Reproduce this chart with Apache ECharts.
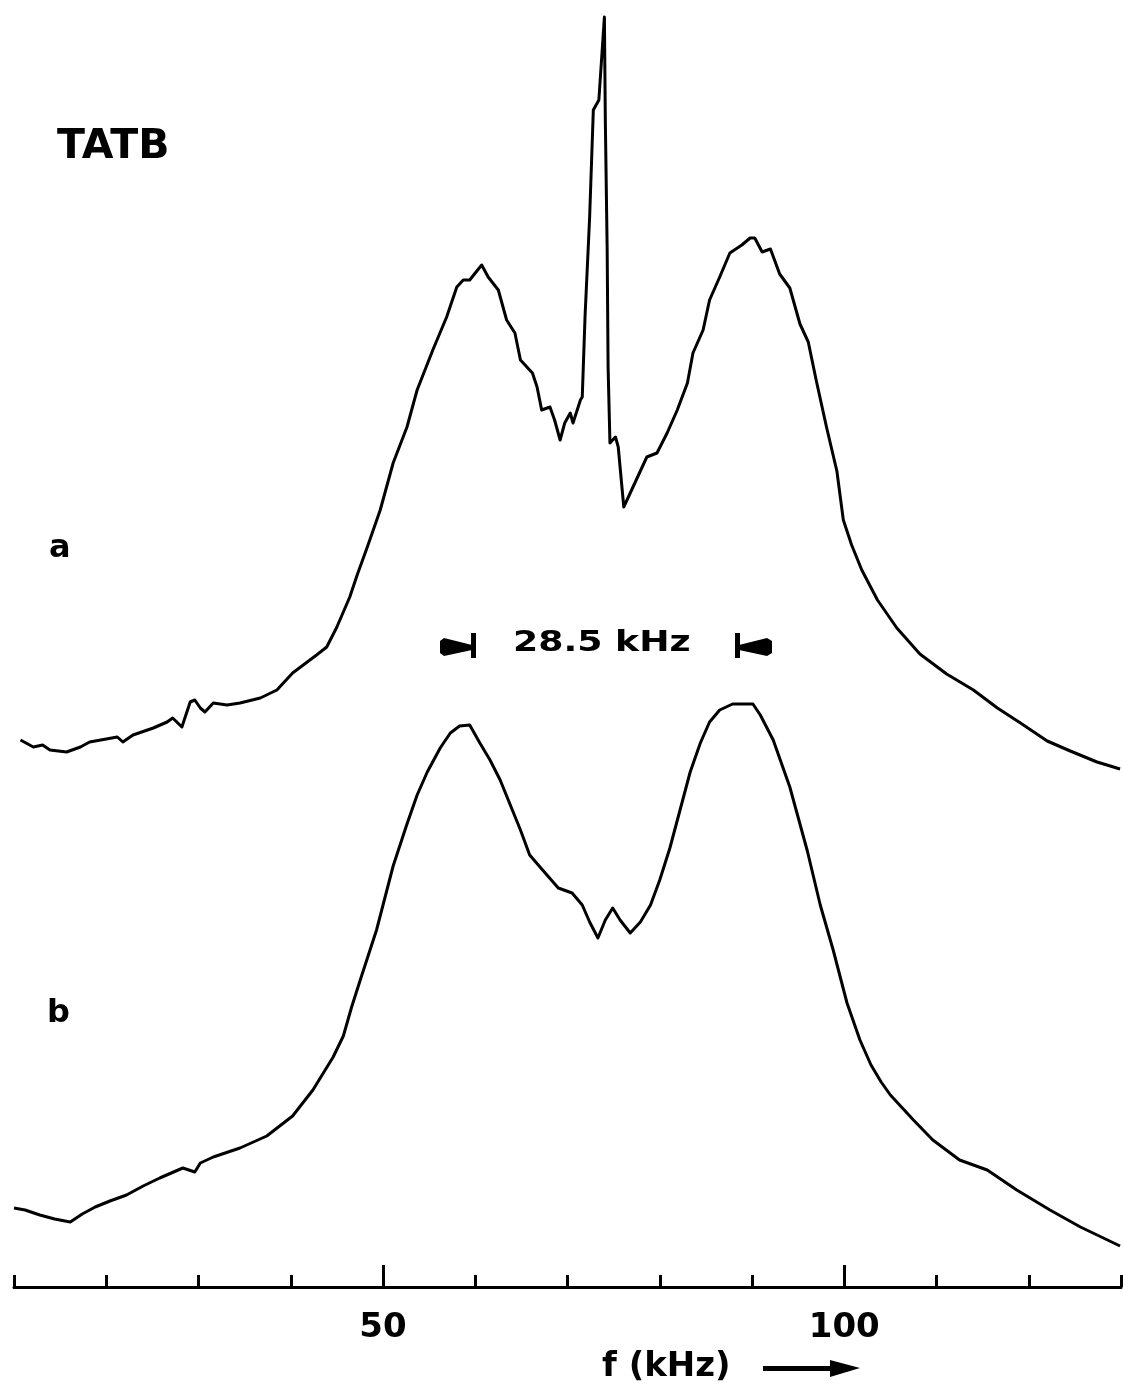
<!DOCTYPE html>
<html>
<head>
<meta charset="utf-8">
<script src="https://cdn.jsdelivr.net/npm/echarts@6/dist/echarts.min.js"></script>
<style>html,body{margin:0;padding:0;background:#fff}#c{width:1123px;height:1385px}</style>
</head>
<body>
<div id="c"></div>
<script>
// frequency (kHz) and signal (arbitrary units)
const freqA = [10.7,12.1,13.1,13.9,15.7,17.2,18.2,21.2,21.8,22.9,25.1,26.6,27.2,28.2,29.1,29.6,30.2,30.7,31.6,33.1,34.5,36.7,38.5,40.2,42.8,43.9,45.0,46.4,47.2,48.3,49.7,51.1,52.6,53.7,55.4,56.9,58.0,58.7,59.4,60.0,60.7,61.4,62.5,63.4,64.3,64.9,66.2,66.7,67.2,68.1,68.6,69.2,69.7,70.3,70.6,71.4,71.6,71.9,72.4,72.8,73.4,74.0,74.1,74.3,74.4,74.6,75.2,75.5,76.1,77.1,78.6,79.7,80.8,81.9,83.0,83.6,84.7,85.4,86.5,87.6,88.9,89.8,90.3,91.1,92.0,93.0,94.1,95.2,96.1,97.0,98.1,99.2,99.9,100.8,101.9,103.6,105.7,108.2,111.1,114.0,116.6,119.1,122.0,124.5,127.4,129.9];
const sigA = [547,540,542,537,535,540,545,550,545,552,559,565,569,560,585,587,579,575,584,582,584,589,597,614,632,640,660,690,712,740,777,824,860,897,937,970,1000,1007,1007,1014,1022,1010,997,967,954,927,914,900,877,880,867,847,864,874,864,887,890,970,1070,1177,1187,1270,1167,1037,920,844,850,840,780,800,830,834,854,877,904,934,957,987,1010,1034,1042,1049,1049,1035,1038,1013,999,963,945,905,859,816,767,742,717,687,659,633,613,597,579,564,546,536,525,518];
const freqB = [10.0,11.2,12.8,14.4,16.1,17.4,18.8,20.4,22.2,24.0,25.8,28.3,29.6,30.2,31.6,34.5,37.4,40.2,42.4,44.6,45.7,46.6,47.5,49.3,51.1,52.6,53.7,54.8,56.2,57.3,58.3,59.4,60.5,61.6,62.7,63.8,64.9,65.9,67.3,69.0,70.5,71.6,72.4,73.3,74.1,74.9,75.7,76.8,77.9,79.0,80.0,81.1,82.2,83.3,84.4,85.4,86.5,87.9,90.1,90.9,92.3,94.1,96.0,97.4,98.8,100.3,101.7,102.9,104.0,105.0,107.5,109.6,112.5,115.5,118.7,122.3,125.6,129.9];
const sigB = [79,77,72,68,65,73,80,86,92,101,109,119,115,124,130,139,151,171,197,230,251,280,306,357,421,463,492,515,539,554,561,562,544,527,507,482,457,432,417,399,394,382,365,349,367,379,367,354,365,382,407,439,477,515,544,565,577,583,583,572,547,500,436,382,337,284,247,222,205,192,167,147,127,117,97,77,60,41];
const minorTicks = [10,20,30,40,50,60,70,80,90,100,110,120,130];
const majorTicks = [50,100];
const tickLabels = ['50','100'];

const FONT = 'DejaVu Sans';
const chart = echarts.init(document.getElementById('c'), null, {renderer:'canvas'});
const seriesA = freqA.map((f,i)=>[f,sigA[i]]);
const seriesB = freqB.map((f,i)=>[f,sigB[i]]);

chart.setOption({
  animation:false,
  backgroundColor:'#fff',
  grid:{left:14,right:2,top:0,bottom:98,containLabel:false},
  xAxis:[{
    type:'value',min:10,max:130,interval:10,position:'bottom',
    axisLine:{show:true,lineStyle:{color:'#000',width:3}},
    axisTick:{show:true,inside:true,length:12,lineStyle:{color:'#000',width:3},customValues:minorTicks},
    axisLabel:{show:true,customValues:majorTicks,formatter:v=>tickLabels[majorTicks.indexOf(v)]||'',
      color:'#000',fontFamily:FONT,fontWeight:'bold',fontSize:34,margin:24},
    splitLine:{show:false}
  },{
    type:'value',min:10,max:130,interval:10,position:'bottom',
    axisLine:{show:false},
    axisTick:{show:true,inside:true,length:22,lineStyle:{color:'#000',width:3},customValues:majorTicks},
    axisLabel:{show:false},
    splitLine:{show:false}
  }],
  yAxis:{type:'value',min:0,max:1287,show:false,splitLine:{show:false}},
  series:[
    {type:'line',name:'a',data:seriesA,showSymbol:false,smooth:false,lineStyle:{color:'#000',width:3,join:'round'},xAxisIndex:0},
    {type:'line',name:'b',data:seriesB,showSymbol:false,smooth:false,lineStyle:{color:'#000',width:3,join:'round'},xAxisIndex:0}
  ],
  graphic:[
    {type:'text',left:57,top:127,style:{text:'TATB',font:'bold 41px "DejaVu Sans"',fill:'#000'}},
    {type:'text',left:49,top:533,style:{text:'a',font:'bold 32px "DejaVu Sans"',fill:'#000'}},
    {type:'text',left:47,top:998,style:{text:'b',font:'bold 32px "DejaVu Sans"',fill:'#000'}},
    {type:'text',x:513,y:643,scaleX:1.25,style:{text:'28.5 kHz',font:'bold 29px "DejaVu Sans"',fill:'#000',textVerticalAlign:'middle',textAlign:'left'}},
    {type:'polygon',shape:{points:[[440,641],[444,638],[472,645],[472,650],[444,656],[440,653]]},style:{fill:'#000'}},
    {type:'rect',shape:{x:471,y:633,width:5,height:25},style:{fill:'#000'}},
    {type:'rect',shape:{x:735,y:633,width:5,height:25},style:{fill:'#000'}},
    {type:'polygon',shape:{points:[[739,645],[767,638],[772,641],[772,653],[767,656],[739,650]]},style:{fill:'#000'}},
    {type:'text',x:602,y:1367,style:{text:'f (kHz)',font:'bold 34px "DejaVu Sans"',fill:'#000',textVerticalAlign:'middle'}},
    {type:'rect',shape:{x:763,y:1366,width:72,height:5},style:{fill:'#000'}},
    {type:'polygon',shape:{points:[[830,1360],[860,1368],[830,1377]]},style:{fill:'#000'}}
  ]
});
</script>
</body>
</html>
